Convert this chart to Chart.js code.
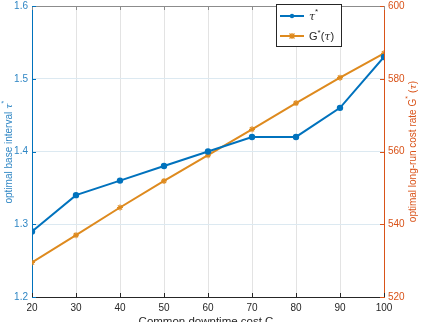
<!DOCTYPE html>
<html>
<head>
<meta charset="utf-8">
<script src="https://cdn.jsdelivr.net/npm/chart.js@4"></script>
<style>
  html, body { margin: 0; padding: 0; background: #fff; }
  #wrap { width: 422px; height: 322px; position: relative; }
</style>
</head>
<body>
<div id="wrap"><canvas id="c"></canvas></div>
<script>
// values
const costC = [20, 30, 40, 50, 60, 70, 80, 90, 100];
const tauStar = [1.29, 1.34, 1.36, 1.38, 1.40, 1.42, 1.42, 1.46, 1.53];
const gStar = [529.5, 537, 544.6, 551.9, 559, 566.1, 573.3, 580.3, 587];
const leftTicks = [1.2, 1.3, 1.4, 1.5, 1.6];
const rightTicks = [520, 540, 560, 580, 600];

const C = {
  blue: '#0072BD',
  blueText: '#2F86C4',
  orange: '#DE8A1E',
  orangeAxis: '#D95319',
  gridV: '#e3e3e3',
  gridH: '#dce9f1',
  dark: '#262626',
  box: '#8c8c8c',
};
const FONT = 'Liberation Sans, Arial, Helvetica, sans-serif';

// MATLAB-ish frame: top border, inward ticks, axis titles, legend box
const extras = {
  id: 'extras',
  afterDraw(chart) {
    const ctx = chart.ctx;
    const a = chart.chartArea;
    const x = chart.scales.x, y = chart.scales.y, y1 = chart.scales.y1;
    ctx.save();
    ctx.lineWidth = 1;
    // top border
    ctx.strokeStyle = C.box;
    ctx.beginPath(); ctx.moveTo(a.left, a.top + 0.5); ctx.lineTo(a.right, a.top + 0.5); ctx.stroke();
    // inward ticks on x (bottom + top)
    costC.forEach((v) => {
      const px = Math.round(x.getPixelForValue(v)) + 0.5;
      ctx.strokeStyle = C.dark;
      ctx.beginPath(); ctx.moveTo(px, a.bottom); ctx.lineTo(px, a.bottom - 4); ctx.stroke();
      ctx.strokeStyle = C.box;
      ctx.beginPath(); ctx.moveTo(px, a.top); ctx.lineTo(px, a.top + 4); ctx.stroke();
    });
    leftTicks.forEach((v) => {
      const py = Math.round(y.getPixelForValue(v)) + 0.5;
      ctx.strokeStyle = C.blue;
      ctx.beginPath(); ctx.moveTo(a.left, py); ctx.lineTo(a.left + 4, py); ctx.stroke();
    });
    rightTicks.forEach((v) => {
      const py = Math.round(y1.getPixelForValue(v)) + 0.5;
      ctx.strokeStyle = C.orangeAxis;
      ctx.beginPath(); ctx.moveTo(a.right, py); ctx.lineTo(a.right - 4, py); ctx.stroke();
    });

    // x axis title (cut off by the canvas edge, as in the reference)
    ctx.fillStyle = C.dark;
    ctx.font = '11.5px ' + FONT;
    ctx.textAlign = 'center';
    ctx.textBaseline = 'top';
    ctx.fillText('Common downtime cost C', (a.left + a.right) / 2 - 2, 316);

    // left title, reads bottom to top
    const midY = (a.top + a.bottom) / 2;
    ctx.save();
    ctx.translate(9, midY);
    ctx.rotate(-Math.PI / 2);
    ctx.fillStyle = C.blueText;
    ctx.textBaseline = 'middle';
    ctx.textAlign = 'left';
    const t1 = 'optimal base interval ';
    ctx.font = '10px ' + FONT;
    const w1 = ctx.measureText(t1).width;
    ctx.font = 'italic 10px DejaVu Serif, serif';
    const w2 = ctx.measureText('\u03c4').width;
    let sx = -(w1 + w2 + 4) / 2;
    ctx.font = '10px ' + FONT;
    ctx.fillText(t1, sx, 0);
    ctx.font = 'italic 10px DejaVu Serif, serif';
    ctx.fillText('\u03c4', sx + w1, 0);
    ctx.font = '7px ' + FONT;
    ctx.fillText('*', sx + w1 + w2, -5);
    ctx.restore();

    // right title, reads bottom to top
    ctx.save();
    ctx.translate(413, midY);
    ctx.rotate(-Math.PI / 2);
    ctx.fillStyle = C.orangeAxis;
    ctx.textBaseline = 'middle';
    ctx.textAlign = 'left';
    const r1 = 'optimal long-run cost rate G';
    ctx.font = '10px ' + FONT;
    const rw1 = ctx.measureText(r1).width;
    const rw3 = ctx.measureText(' (').width;
    const rw5 = ctx.measureText(')').width;
    ctx.font = 'italic 10px DejaVu Serif, serif';
    const rw4 = ctx.measureText('\u03c4').width;
    const total = rw1 + 3 + rw3 + rw4 + rw5;
    sx = -total / 2;
    ctx.font = '10px ' + FONT;
    ctx.fillText(r1, sx, 0);
    ctx.font = '7px ' + FONT;
    ctx.fillText('*', sx + rw1, -5);
    ctx.font = '10px ' + FONT;
    ctx.fillText(' (', sx + rw1 + 3, 0);
    ctx.font = 'italic 10px DejaVu Serif, serif';
    ctx.fillText('\u03c4', sx + rw1 + 3 + rw3, 0);
    ctx.font = '10px ' + FONT;
    ctx.fillText(')', sx + rw1 + 3 + rw3 + rw4, 0);
    ctx.restore();

    // legend
    const lx = 276, ly = 4, lw = 65, lh = 42;
    ctx.fillStyle = '#fff';
    ctx.fillRect(lx, ly, lw, lh);
    ctx.strokeStyle = C.dark;
    ctx.strokeRect(lx + 0.5, ly + 0.5, lw, lh);
    const rows = [
      { y: 16, color: C.blue, ds: 0 },
      { y: 36, color: C.orange, ds: 1 },
    ];
    rows.forEach((r) => {
      ctx.strokeStyle = r.color;
      ctx.lineWidth = 2;
      ctx.beginPath(); ctx.moveTo(280, r.y); ctx.lineTo(304, r.y); ctx.stroke();
      ctx.fillStyle = r.color;
      if (r.ds === 0) {
        ctx.beginPath(); ctx.arc(292, r.y, 2.2, 0, Math.PI * 2); ctx.fill();
      } else {
        ctx.lineWidth = 1.2;
        ctx.beginPath();
        ctx.moveTo(289.5, r.y - 2.5); ctx.lineTo(294.5, r.y + 2.5);
        ctx.moveTo(294.5, r.y - 2.5); ctx.lineTo(289.5, r.y + 2.5);
        ctx.moveTo(292, r.y - 3); ctx.lineTo(292, r.y + 3);
        ctx.stroke();
      }
    });
    ctx.fillStyle = C.dark;
    ctx.textAlign = 'left';
    ctx.textBaseline = 'middle';
    ctx.font = 'italic 11px DejaVu Serif, serif';
    ctx.fillText('\u03c4', 309, 17);
    let tw = ctx.measureText('\u03c4').width;
    ctx.font = '8px ' + FONT;
    ctx.fillText('*', 309 + tw, 12);
    ctx.font = '11px ' + FONT;
    ctx.fillText('G', 309, 37);
    tw = ctx.measureText('G').width;
    ctx.font = '8px ' + FONT;
    ctx.fillText('*', 309 + tw, 33);
    const tw2 = tw + ctx.measureText('*').width;
    ctx.font = '11px ' + FONT;
    ctx.fillText('(', 309 + tw2, 37);
    const tw3 = tw2 + ctx.measureText('(').width;
    ctx.font = 'italic 11px DejaVu Serif, serif';
    ctx.fillText('\u03c4', 309 + tw3, 37);
    const tw4 = tw3 + ctx.measureText('\u03c4').width;
    ctx.font = '11px ' + FONT;
    ctx.fillText(')', 309 + tw4, 37);
    ctx.restore();
  },
};

// fixed frame: drop the label overhang padding the scales ask for
const noPad = (s) => { s.paddingTop = 0; s.paddingBottom = 0; s.paddingLeft = 0; s.paddingRight = 0; };

new Chart(document.getElementById('c'), {
  type: 'line',
  data: {
    datasets: [
      {
        label: '\u03c4*',
        data: costC.map((c, i) => ({ x: c, y: tauStar[i] })),
        borderColor: C.blue,
        backgroundColor: C.blue,
        borderWidth: 2,
        pointRadius: 2.2,
        pointStyle: 'circle',
        tension: 0,
        yAxisID: 'y',
      },
      {
        label: 'G*(\u03c4)',
        data: costC.map((c, i) => ({ x: c, y: gStar[i] })),
        borderColor: C.orange,
        backgroundColor: C.orange,
        borderWidth: 2,
        pointRadius: 3,
        pointBorderWidth: 1.2,
        pointStyle: 'star',
        tension: 0,
        yAxisID: 'y1',
      },
    ],
  },
  options: {
    responsive: true,
    maintainAspectRatio: false,
    animation: false,
    layout: { padding: { top: 4, left: 0, right: 0, bottom: 0 } },
    plugins: { legend: { display: false }, tooltip: { enabled: false } },
    scales: {
      x: {
        type: 'linear',
        min: 20,
        max: 100,
        afterBuildTicks: (s) => { s.ticks = costC.map((v) => ({ value: v })); },
        afterFit: (s) => { s.height = 25; noPad(s); },
        grid: { color: C.gridV, drawTicks: false },
        border: { color: C.dark },
        ticks: { color: C.dark, padding: 5, font: { family: FONT, size: 10 } },
      },
      y: {
        position: 'left',
        min: 1.2,
        max: 1.6,
        afterBuildTicks: (s) => { s.ticks = leftTicks.map((v) => ({ value: v })); },
        afterFit: (s) => { s.width = 32; noPad(s); },
        grid: { color: C.gridH, drawTicks: false },
        border: { color: C.blue },
        ticks: { color: C.blueText, padding: 4, font: { family: FONT, size: 10 }, callback: (v) => v.toFixed(1) },
      },
      y1: {
        position: 'right',
        min: 520,
        max: 600,
        afterBuildTicks: (s) => { s.ticks = rightTicks.map((v) => ({ value: v })); },
        afterFit: (s) => { s.width = 38; noPad(s); },
        grid: { drawOnChartArea: false, drawTicks: false },
        border: { color: C.orangeAxis },
        ticks: { color: C.orangeAxis, padding: 4, font: { family: FONT, size: 10 } },
      },
    },
  },
  plugins: [extras],
});
</script>
</body>
</html>
